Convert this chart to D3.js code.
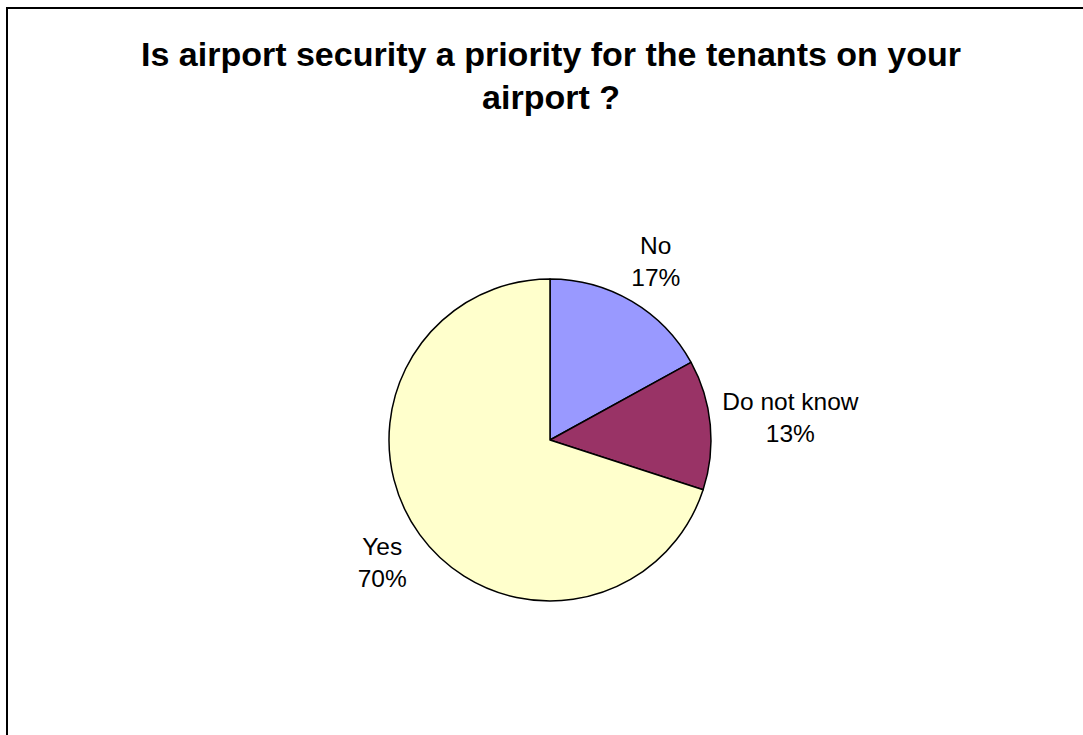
<!DOCTYPE html>
<html>
<head>
<meta charset="utf-8">
<script src="https://cdn.jsdelivr.net/npm/d3@7"></script>
<style>
  html, body { margin: 0; padding: 0; background: #fff; }
  svg { display: block; }
  text { font-family: "Liberation Sans", Arial, sans-serif; fill: #000; }
</style>
</head>
<body>
<svg id="chart" width="1083" height="735"></svg>
<script>
// Survey answers, in drawing order (clockwise from 12 o'clock)
const categories = ["No", "Do not know", "Yes"];
const shares = [17, 13, 70];
const colors = ["#9999FF", "#993366", "#FFFFCC"];
const titleLines = ["Is airport security a priority for the tenants on your", "airport ?"];

const width = 1083, height = 735;
const svg = d3.select("#chart");

// Chart area frame (runs past the right and bottom edges of the page)
svg.append("rect")
  .attr("x", 7).attr("y", 8)
  .attr("width", width + 20).attr("height", height + 20)
  .attr("fill", "#fff")
  .attr("stroke", "#000")
  .attr("stroke-width", 2);

// Title
const title = svg.append("text")
  .attr("text-anchor", "middle")
  .attr("font-size", 34)
  .attr("font-weight", "bold");
titleLines.forEach((line, i) => {
  title.append("tspan")
    .attr("x", 551)
    .attr("y", 66 + i * 43)
    .text(line);
});

// Pie
const cx = 550, cy = 440, r = 161;
const data = categories.map((c, i) => ({ name: c, value: shares[i], color: colors[i] }));

const pie = d3.pie().value(d => d.value).sort(null);
const arc = d3.arc().innerRadius(0).outerRadius(r);
const arcs = pie(data);

const g = svg.append("g").attr("transform", `translate(${cx},${cy})`);

g.selectAll("path.slice")
  .data(arcs)
  .join("path")
  .attr("class", "slice")
  .attr("d", arc)
  .attr("fill", d => d.data.color)
  .attr("stroke", "#000")
  .attr("stroke-width", 1.5)
  .attr("stroke-linejoin", "round");

// Data labels: placed outside the slice along its mid-angle,
// pushed out so the label box clears the rim.
const fontSize = 24.5, lineGap = 32, gap = 10;
const labels = g.selectAll("text.label")
  .data(arcs)
  .join("text")
  .attr("class", "label")
  .attr("text-anchor", "middle")
  .attr("font-size", fontSize);

labels.each(function(d) {
  const el = d3.select(this);
  const t1 = el.append("tspan").text(d.data.name);
  const t2 = el.append("tspan").text(d.data.value + "%");
  const w = Math.max(t1.node().getComputedTextLength(), t2.node().getComputedTextLength());
  const h = lineGap + fontSize;
  const mid = (d.startAngle + d.endAngle) / 2;
  const sx = Math.sin(mid), sy = -Math.cos(mid);
  const dist = r + gap + Math.abs(sx) * w / 2 + Math.abs(sy) * h / 2;
  const lx = sx * dist, ly = sy * dist;
  const cap = fontSize * 0.716;
  t1.attr("x", lx).attr("y", ly - lineGap / 2 + cap / 2);
  t2.attr("x", lx).attr("y", ly + lineGap / 2 + cap / 2);
});
</script>
</body>
</html>
